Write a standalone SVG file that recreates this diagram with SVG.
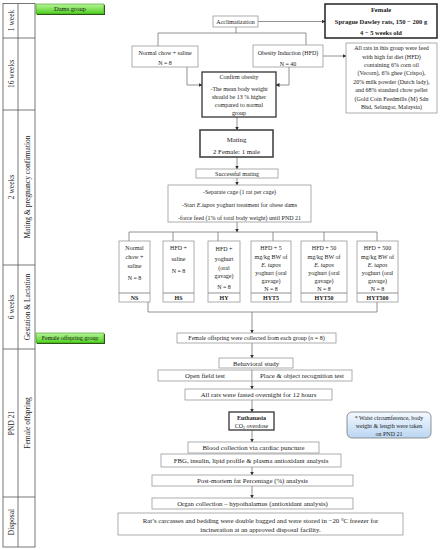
<svg xmlns="http://www.w3.org/2000/svg" width="442" height="550" viewBox="0 0 442 550">
<defs>
<linearGradient id="gGreen" x1="0" y1="0" x2="0" y2="1"><stop offset="0" stop-color="#b8f59a"/><stop offset="1" stop-color="#4fcf1f"/></linearGradient>
<linearGradient id="gBlue" x1="0" y1="0" x2="0" y2="1"><stop offset="0" stop-color="#f4f9ff"/><stop offset="1" stop-color="#b9d6f2"/></linearGradient>
<marker id="arr" markerWidth="4" markerHeight="4" refX="3.5" refY="2" orient="auto" markerUnits="userSpaceOnUse"><path d="M0,0 L4,2 L0,4 Z" fill="#333"/></marker>
<style>
text{font-family:"Liberation Serif","Times New Roman",serif;fill:#222;text-anchor:middle}
.t6{font-size:6px}.t65{font-size:6.5px}.t7{font-size:6.8px}.lab{font-size:7.5px}
.b{font-weight:bold}.i{font-style:italic}
.box{fill:#fff;stroke:#999;stroke-width:0.8}
.thick{fill:#fff;stroke:#333;stroke-width:1.3}
.grid{fill:none;stroke:#555;stroke-width:0.8}
.ln{fill:none;stroke:#777;stroke-width:0.8}
.ar{fill:none;stroke:#777;stroke-width:0.8;marker-end:url(#arr)}
</style>
</defs>
<rect width="442" height="550" fill="#fff"/>

<g id="timeline">
<rect class="grid" x="3" y="3.5" width="32" height="543.5"/>
<line class="grid" x1="18" y1="3.5" x2="18" y2="547"/>
<line class="grid" x1="3" y1="38" x2="35" y2="38"/>
<line class="grid" x1="3" y1="110" x2="35" y2="110"/>
<line class="grid" x1="3" y1="265" x2="35" y2="265"/>
<line class="grid" x1="3" y1="349" x2="35" y2="349"/>
<line class="grid" x1="3" y1="497" x2="35" y2="497"/>
<text class="lab" transform="translate(11,20.5) rotate(-90)" dominant-baseline="central">1 week</text>
<text class="lab" transform="translate(11,74) rotate(-90)" dominant-baseline="central">16 weeks</text>
<text class="lab" transform="translate(11,187) rotate(-90)" dominant-baseline="central">2 weeks</text>
<text class="lab" transform="translate(27,187) rotate(-90)" dominant-baseline="central">Mating &amp; pregnancy confirmation</text>
<text class="lab" transform="translate(11,307) rotate(-90)" dominant-baseline="central">6 weeks</text>
<text class="lab" transform="translate(27,307) rotate(-90)" dominant-baseline="central">Gestation &amp; Lactation</text>
<text class="lab" transform="translate(11,423) rotate(-90)" dominant-baseline="central">PND 21</text>
<text class="lab" transform="translate(27,423) rotate(-90)" dominant-baseline="central">Female offspring</text>
<text class="lab" transform="translate(11,522) rotate(-90)" dominant-baseline="central">Disposal</text>
</g>

<g id="dams-group">
<rect x="37" y="5" width="68" height="10" fill="#2a3a1a"/>
<rect x="36" y="4" width="68" height="10" fill="url(#gGreen)" stroke="#3c9a1a" stroke-width="0.6"/>
<text class="t65" x="70" y="11.3">Dams group</text>
</g>
<g id="offspring-group">
<rect x="37" y="334" width="68" height="10" fill="#2a3a1a"/>
<rect x="36" y="333" width="68" height="10" fill="url(#gGreen)" stroke="#3c9a1a" stroke-width="0.6"/>
<text class="t6" x="70" y="340.3">Female offspring  group</text>
</g>

<g id="connectors">
<line class="ar" x1="258" y1="21.5" x2="325" y2="21.5"/>
<polyline class="ln" points="236,27 236,33"/>
<polyline class="ln" points="158,46 158,33 306,33 306,45"/>
<polyline class="ar" points="187,67 187,85 202,85"/>
<polyline class="ar" points="289,67 289,85 276,85"/>
<line class="ar" x1="323" y1="56" x2="346" y2="56"/>
<line class="ar" x1="237" y1="117" x2="237" y2="130"/>
<line class="ar" x1="237" y1="157" x2="237" y2="169"/>
<line class="ar" x1="237" y1="178" x2="237" y2="185"/>
<line class="ar" x1="237" y1="222" x2="237" y2="232"/>
<polyline class="ln" points="129,241 129,232 377,232 377,241"/>
<line class="ln" x1="173" y1="232" x2="173" y2="241"/>
<line class="ln" x1="218" y1="232" x2="218" y2="241"/>
<line class="ln" x1="273" y1="232" x2="273" y2="241"/>
<line class="ln" x1="324" y1="232" x2="324" y2="241"/>
<polyline class="ln" points="148,302 148,312 377,312 377,302"/>
<line class="ar" x1="252" y1="312" x2="252" y2="333"/>
<line class="ar" x1="252" y1="343" x2="252" y2="358"/>
<line class="ar" x1="252" y1="381" x2="252" y2="389"/>
<line class="ar" x1="252" y1="400" x2="252" y2="412"/>
<line class="ar" x1="252" y1="430" x2="252" y2="442"/>
<line class="ar" x1="252" y1="467" x2="252" y2="475"/>
<line class="ar" x1="252" y1="486" x2="252" y2="498"/>
</g>

<g id="acclimatization">
<rect class="box" x="213" y="16" width="45" height="11"/>
<text class="t6" x="235.5" y="23.6">Acclimatization</text>
</g>
<g id="female">
<rect x="325" y="4" width="112" height="34" fill="#fff" stroke="#222" stroke-width="1.5"/>
<text class="t65 b" x="381" y="12">Female</text>
<text class="t65 b" x="381" y="24">Sprague Dawley rats, 150 − 200 g</text>
<text class="t65 b" x="381" y="35">4 − 5 weeks old</text>
</g>
<g id="normal-chow">
<rect class="box" x="132" y="46" width="66" height="21"/>
<text class="t6" x="165" y="55">Normal chow + saline</text>
<text class="t6" x="165" y="65">N = 8</text>
</g>
<g id="obesity-induction">
<rect class="box" x="253" y="45" width="70" height="22"/>
<text class="t6" x="288" y="55">Obesity  Induction (HFD)</text>
<text class="t6" x="288" y="65.5">N = 40</text>
</g>
<g id="hfd-diet">
<rect class="box" x="346" y="43" width="91" height="70"/>
<text class="t6" x="391.5" y="50.2">All rats in this group  were feed</text>
<text class="t6" x="391.5" y="58.6">with high fat diet (HFD)</text>
<text class="t6" x="391.5" y="67">containing  6% corn oil</text>
<text class="t6" x="391.5" y="75.4">(Vecorn), 6% ghee (Crispo),</text>
<text class="t6" x="391.5" y="83.8">20% milk powder (Dutch lady),</text>
<text class="t6" x="391.5" y="92.2">and 68% standard  chow pellet</text>
<text class="t6" x="391.5" y="100.6">(Gold Coin Feedmills (M) Sdn</text>
<text class="t6" x="391.5" y="109">Bhd, Selangor, Malaysia)</text>
</g>
<g id="confirm-obesity">
<rect class="thick" x="202" y="72" width="74" height="45"/>
<text class="t6" x="239" y="78.5">Confirm obesity</text>
<text class="t6" x="239" y="91">-The mean body weight</text>
<text class="t6" x="239" y="99">should be 13 % higher</text>
<text class="t6" x="239" y="106.5">compared  to normal</text>
<text class="t6" x="239" y="115">group</text>
</g>
<g id="mating">
<rect x="200" y="130" width="73" height="27" fill="#fff" stroke="#444" stroke-width="1.6"/>
<text class="t7" x="236.5" y="141.5">Mating</text>
<text class="t7" x="236.5" y="154">2 Female: 1 male</text>
</g>
<g id="successful-mating">
<rect class="box" x="196" y="169" width="82" height="9"/>
<text class="t6" x="237" y="175.7">Successful mating</text>
</g>
<g id="separate-cage">
<rect class="box" x="168" y="185" width="143" height="37"/>
<text class="t6" x="239.5" y="194">-Separate cage (1 rat per cage)</text>
<text class="t6" x="239.5" y="207">-Start <tspan class="i">E.tapos</tspan> yoghurt  treatment  for obese dams</text>
<text class="t6" x="239.5" y="220">-force feed (1% of total body weight) until PND 21</text>
</g>

<g id="NS">
<rect class="box" x="119" y="241" width="31" height="61"/>
<line class="ln" x1="119" y1="293" x2="150" y2="293"/>
<text class="t6" x="134.5" y="250">Normal</text>
<text class="t6" x="134.5" y="259">chow  +</text>
<text class="t6" x="134.5" y="267.5">saline</text>
<text class="t6" x="134.5" y="280">N = 8</text>
<text class="t6 b" x="134.5" y="300">NS</text>
</g>
<g id="HS">
<rect class="box" x="163" y="241" width="31" height="61"/>
<line class="ln" x1="163" y1="293" x2="194" y2="293"/>
<text class="t6" x="178.5" y="250">HFD +</text>
<text class="t6" x="178.5" y="261">saline</text>
<text class="t6" x="178.5" y="273">N = 8</text>
<text class="t6 b" x="178.5" y="300">HS</text>
</g>
<g id="HY">
<rect class="box" x="208" y="241" width="32" height="61"/>
<line class="ln" x1="208" y1="293" x2="240" y2="293"/>
<text class="t6" x="224" y="251">HFD +</text>
<text class="t6" x="224" y="261">yoghurt</text>
<text class="t6" x="224" y="270">(oral</text>
<text class="t6" x="224" y="277.5">gavage)</text>
<text class="t6" x="224" y="289">N = 8</text>
<text class="t6 b" x="224" y="300">HY</text>
</g>
<g id="HYT5">
<rect class="box" x="251" y="241" width="40" height="61"/>
<line class="ln" x1="251" y1="293" x2="291" y2="293"/>
<text class="t6" x="271" y="250">HFD + 5</text>
<text class="t6" x="271" y="259">mg/kg BW of</text>
<text class="t6 i" x="271" y="267">E. tapos</text>
<text class="t6" x="271" y="275">yoghurt (oral</text>
<text class="t6" x="271" y="283">gavage)</text>
<text class="t6" x="271" y="291">N = 8</text>
<text class="t6 b" x="271" y="300">HYT5</text>
</g>
<g id="HYT50">
<rect class="box" x="301" y="241" width="46" height="61"/>
<line class="ln" x1="301" y1="293" x2="347" y2="293"/>
<text class="t6" x="324" y="250">HFD + 50</text>
<text class="t6" x="324" y="259">mg/kg BW of</text>
<text class="t6 i" x="324" y="267">E. tapos</text>
<text class="t6" x="324" y="275">yoghurt (oral</text>
<text class="t6" x="324" y="283">gavage)</text>
<text class="t6" x="324" y="291">N = 8</text>
<text class="t6 b" x="324" y="300">HYT50</text>
</g>
<g id="HYT500">
<rect class="box" x="357" y="241" width="41" height="61"/>
<line class="ln" x1="357" y1="293" x2="398" y2="293"/>
<text class="t6" x="377.5" y="250">HFD + 500</text>
<text class="t6" x="377.5" y="259">mg/kg BW of</text>
<text class="t6 i" x="377.5" y="267">E. tapos</text>
<text class="t6" x="377.5" y="275">yoghurt (oral</text>
<text class="t6" x="377.5" y="283">gavage)</text>
<text class="t6" x="377.5" y="291">N = 8</text>
<text class="t6 b" x="377.5" y="300">HYT500</text>
</g>

<g id="offspring-collected">
<rect class="box" x="177" y="333" width="159" height="10"/>
<text class="t6" x="256.5" y="340.3">Female offspring  were collected from each group  (<tspan class="i">n</tspan> = 8)</text>
</g>
<g id="behavioral">
<rect class="box" x="219" y="358" width="74" height="10" stroke="#555"/>
<text class="t7" x="256" y="365.8">Behavioral study</text>
</g>
<g id="open-field">
<rect class="box" x="158" y="370" width="94" height="11" stroke="#555"/>
<text class="t7" x="205" y="378">Open field test</text>
</g>
<g id="place-object">
<rect class="box" x="252" y="370" width="100" height="11" stroke="#555"/>
<text class="t7" x="302" y="378">Place &amp; object recognition test</text>
</g>
<g id="fasted">
<rect class="box" x="185" y="389" width="147" height="11" stroke="#555"/>
<text class="t7" x="258.5" y="397">All rats were fasted overnight for 12 hours</text>
</g>
<g id="euthanasia">
<rect class="thick" x="229" y="412" width="45" height="18"/>
<text class="t6 b" x="251.5" y="419.5">Euthanasia</text>
<text class="t6" x="251.5" y="428">CO<tspan font-size="4" dy="1">2</tspan><tspan dy="-1"> overdose</tspan></text>
</g>
<g id="note">
<rect x="347" y="412" width="84" height="26" rx="5" fill="url(#gBlue)" stroke="#777" stroke-width="0.8"/>
<text class="t6" x="389" y="420">* Waist circumference, body</text>
<text class="t6" x="389" y="428">weight &amp; length were taken</text>
<text class="t6" x="389" y="435.5">on PND 21</text>
</g>
<g id="blood">
<rect class="box" x="188" y="442" width="131" height="11" stroke="#555"/>
<text class="t7" x="253.5" y="450">Blood collection via cardiac puncture</text>
</g>
<g id="fbg">
<rect class="box" x="161" y="454" width="180" height="13" stroke="#555"/>
<text class="t7" x="251" y="463">FBG, insulin, lipid profile &amp; plasma antioxidant analysis</text>
</g>
<g id="post-mortem">
<rect class="box" x="152" y="475" width="201" height="11" stroke="#555"/>
<text class="t7" x="252.5" y="483">Post-mortem  fat Percentage (%) analysis</text>
</g>
<g id="organ">
<rect class="box" x="152" y="498" width="201" height="11" stroke="#555"/>
<text class="t7" x="252.5" y="506">Organ collection – hypothalamus (antioxidant analysis)</text>
</g>
<g id="disposal">
<rect class="box" x="118" y="513" width="285" height="22" stroke="#555"/>
<text class="t7" x="260.5" y="522.5">Rat’s carcasses and bedding  were double bagged and were stored in −20 °C freezer for</text>
<text class="t7" x="260.5" y="531.5">incineration at an approved disposal  facility.</text>
</g>
</svg>
